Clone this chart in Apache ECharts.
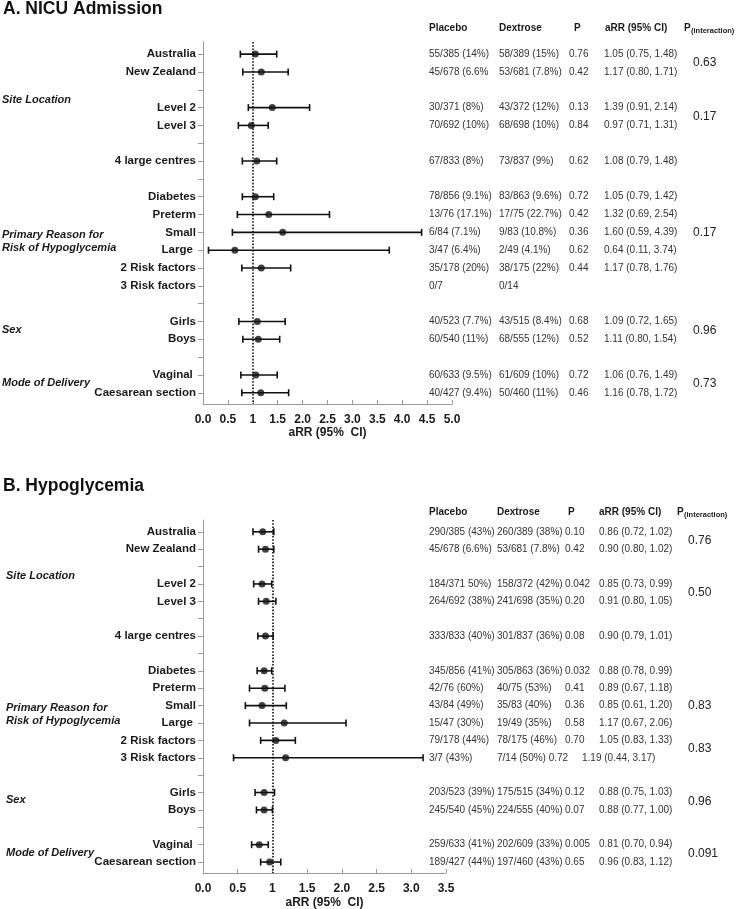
<!DOCTYPE html>
<html>
<head>
<meta charset="utf-8">
<script src="https://cdn.jsdelivr.net/npm/echarts@6/dist/echarts.min.js"></script>
<style>html,body{margin:0;padding:0;background:#fff}#c{width:738px;height:909px}</style>
</head>
<body>
<div id="c"></div>
<script>
// ---------- data ----------
const rowLabels = ['Australia','New Zealand','','Level 2','Level 3','','4 large centres','','Diabetes','Preterm','Small','Large ','2 Risk factors','3 Risk factors','','Girls','Boys','','Vaginal ','Caesarean section'];

// Panel A: NICU Admission
const aEst = [1.05,1.17,null,1.39,0.97,null,1.08,null,1.05,1.32,1.60,0.64,1.17,null,null,1.09,1.11,null,1.06,1.16];
const aLo  = [0.75,0.80,null,0.91,0.71,null,0.79,null,0.79,0.69,0.59,0.11,0.78,null,null,0.72,0.80,null,0.76,0.78];
const aHi  = [1.48,1.71,null,2.14,1.31,null,1.48,null,1.42,2.54,4.39,3.74,1.76,null,null,1.65,1.54,null,1.49,1.72];
const aPlacebo  = ['55/385 (14%)','45/678 (6.6%','','30/371 (8%)','70/692 (10%)','','67/833 (8%)','','78/856 (9.1%)','13/76 (17.1%)','6/84 (7.1%)','3/47 (6.4%)','35/178 (20%)','0/7','','40/523 (7.7%)','60/540 (11%)','','60/633 (9.5%)','40/427 (9.4%)'];
const aDextrose = ['58/389 (15%)','53/681 (7.8%)','','43/372 (12%)','68/698 (10%)','','73/837 (9%)','','83/863 (9.6%)','17/75 (22.7%)','9/83 (10.8%)','2/49 (4.1%)','38/175 (22%)','0/14','','43/515 (8.4%)','68/555 (12%)','','61/609 (10%)','50/460 (11%)'];
const aP = ['0.76','0.42','','0.13','0.84','','0.62','','0.72','0.42','0.36','0.62','0.44','','','0.68','0.52','','0.72','0.46'];
const aPint = ['0.63','0.17','0.17','0.96','0.73'];
const aPintRow = [0.5,3.5,10,15.5,18.5];

// Panel B: Hypoglycemia
const bEst = [0.86,0.90,null,0.85,0.91,null,0.90,null,0.88,0.89,0.85,1.17,1.05,1.19,null,0.88,0.88,null,0.81,0.96];
const bLo  = [0.72,0.80,null,0.73,0.80,null,0.79,null,0.78,0.67,0.61,0.67,0.83,0.44,null,0.75,0.77,null,0.70,0.83];
const bHi  = [1.02,1.02,null,0.99,1.05,null,1.01,null,0.99,1.18,1.20,2.06,1.33,3.17,null,1.03,1.00,null,0.94,1.12];
const bPlacebo  = ['290/385 (43%)','45/678 (6.6%)','','184/371 50%)','264/692 (38%)','','333/833 (40%)','','345/856 (41%)','42/76 (60%)','43/84 (49%)','15/47 (30%)','79/178 (44%)','3/7 (43%)','','203/523 (39%)','245/540 (45%)','','259/633 (41%)','189/427 (44%)'];
const bDextrose = ['260/389 (38%)','53/681 (7.8%)','','158/372 (42%)','241/698 (35%)','','301/837 (36%)','','305/863 (36%)','40/75 (53%)','35/83 (40%)','19/49 (35%)','78/175 (46%)','7/14 (50%) 0.72','','175/515 (34%)','224/555 (40%)','','202/609 (33%)','197/460 (43%)'];
const bP = ['0.10','0.42','','0.042','0.20','','0.08','','0.032','0.41','0.36','0.58','0.70','','','0.12','0.07','','0.005','0.65'];
const bPint = ['0.76','0.50','0.83','0.83','0.96','0.091'];
const bPintRow = [0.5,3.5,10,12.5,15.5,18.5];

const groupLabels = [
  {lines:['Site Location'], row:2.55},
  {lines:['Primary Reason for','Risk of Hypoglycemia'], row:10.12},
  {lines:['Sex'], row:15.45},
  {lines:['Mode of Delivery'], row:18.45}
];

// ---------- chart ----------
const FONT = '"Liberation Sans", Arial, Helvetica, sans-serif';
const chart = echarts.init(document.getElementById('c'), null, {renderer:'canvas'});

const tickRows = rowLabels.map((_, i) => i);
const labelRows = rowLabels.map((l, i) => l ? i : null).filter(v => v !== null);

function yAxisCfg(gi) {
  return {
    type:'value', gridIndex:gi, inverse:true, min:-0.68, max:19.63,
    axisLine:{show:true, onZero:false, lineStyle:{color:'#9a9a9a', width:1}},
    axisTick:{show:true, length:5, lineStyle:{color:'#9a9a9a'}, customValues:tickRows},
    axisLabel:{show:true, customValues:labelRows, margin:7, fontSize:11.5, fontWeight:'bold', color:'#1a1a1a', fontFamily:FONT,
      formatter:v => rowLabels[Math.round(v)] || ''},
    splitLine:{show:false}
  };
}
function xAxisCfg(gi, max, gap) {
  return {
    type:'value', gridIndex:gi, min:0, max:max, interval:0.5, position:'bottom',
    axisLine:{show:true, onZero:false, lineStyle:{color:'#9a9a9a', width:1}},
    axisTick:{show:true, inside:true, length:4, lineStyle:{color:'#9a9a9a'}},
    axisLabel:{margin:10, fontSize:12, fontWeight:'bold', color:'#1a1a1a', fontFamily:FONT,
      formatter:v => (Math.abs(v-1) < 1e-9 ? '1' : v.toFixed(1))},
    splitLine:{show:false},
    name:'aRR (95%  CI)', nameLocation:'middle', nameGap:gap,
    nameTextStyle:{fontSize:12, fontWeight:'bold', color:'#1a1a1a', fontFamily:FONT}
  };
}
function barData(lo, hi) {
  const d = [];
  lo.forEach((v, i) => { if (v !== null) d.push([v, hi[i], i]); });
  return d;
}
function ptData(est) {
  const d = [];
  est.forEach((v, i) => { if (v !== null) d.push([v, i]); });
  return d;
}
function whisker(params, api) {
  const p1 = api.coord([api.value(0), api.value(2)]);
  const p2 = api.coord([api.value(1), api.value(2)]);
  const h = 3.5;
  const st = {stroke:'#111', lineWidth:1.6};
  return {type:'group', children:[
    {type:'line', shape:{x1:p1[0], y1:p1[1], x2:p2[0], y2:p2[1]}, style:st},
    {type:'line', shape:{x1:p1[0], y1:p1[1]-h, x2:p1[0], y2:p1[1]+h}, style:st},
    {type:'line', shape:{x1:p2[0], y1:p2[1]-h, x2:p2[0], y2:p2[1]+h}, style:st}
  ]};
}
function seriesFor(gi, est, lo, hi) {
  return [
    {type:'custom', xAxisIndex:gi, yAxisIndex:gi, renderItem:whisker, data:barData(lo, hi), silent:true, z:3},
    {type:'scatter', xAxisIndex:gi, yAxisIndex:gi, data:ptData(est), symbol:'circle', symbolSize:7,
      itemStyle:{color:'#111'}, silent:true, z:4,
      markLine:{silent:true, symbol:['none','none'], label:{show:false},
        lineStyle:{type:'dotted', color:'#111', width:1.6}, data:[{xAxis:1}]}}
  ];
}

const option = {
  animation:false,
  textStyle:{fontFamily:FONT},
  grid:[
    {left:203, top:42, width:249, height:362, containLabel:false, outerBoundsMode:'none'},
    {left:203, top:520, width:243, height:353, containLabel:false, outerBoundsMode:'none'}
  ],
  xAxis:[xAxisCfg(0, 5, 22), xAxisCfg(1, 3.5, 24)],
  yAxis:[yAxisCfg(0), yAxisCfg(1)],
  series:[].concat(seriesFor(0, aEst, aLo, aHi), seriesFor(1, bEst, bLo, bHi))
};
chart.setOption(option);

// ---------- text table / labels ----------
function yPix(gi, row) { return chart.convertToPixel({gridIndex:gi}, [0, row])[1]; }
function txt(x, y, s, font, fill, align) {
  return {type:'text', x:x, y:y, silent:true,
    style:{text:s, font:font, fill:fill || '#1a1a1a', textAlign:align || 'left', textVerticalAlign:'middle'}};
}
const g = [];
const HEAD = 'bold 10px ' + FONT;
const CELL = '10px ' + FONT;
const PINT = '12px ' + FONT;
const GROUP = 'italic bold 11px ' + FONT;

function panel(gi, cfg) {
  g.push(txt(3, cfg.titleY, cfg.title, 'bold 17.5px ' + FONT, '#111'));
  const hy = cfg.headY;
  g.push(txt(cfg.hx[0], hy, 'Placebo', HEAD));
  g.push(txt(cfg.hx[1], hy, 'Dextrose', HEAD));
  g.push(txt(cfg.hx[2], hy, 'P', HEAD));
  g.push(txt(cfg.hx[3], hy, 'aRR (95% CI)', HEAD));
  g.push(txt(cfg.hx[4], hy, 'P', HEAD));
  g.push(txt(cfg.hx[4] + 7, hy + 3, '(interaction)', 'bold 7.5px ' + FONT));
  rowLabels.forEach((l, i) => {
    if (!l) return;
    const y = yPix(gi, i);
    g.push(txt(cfg.cx[0], y, cfg.placebo[i], CELL, '#333'));
    g.push(txt(cfg.cx[1], y, cfg.dextrose[i], CELL, '#333'));
    if (cfg.p[i]) g.push(txt(cfg.cx[2], y, cfg.p[i], CELL, '#333'));
    if (cfg.est[i] !== null) {
      const s = cfg.est[i].toFixed(2) + ' (' + cfg.lo[i].toFixed(2) + ', ' + cfg.hi[i].toFixed(2) + ')';
      const x = cfg.p[i] ? cfg.cx[3] : cfg.cx[3] - 17;
      g.push(txt(x, y, s, CELL, '#333'));
    }
  });
  cfg.pint.forEach((s, k) => g.push(txt(cfg.cx[4], yPix(gi, cfg.pintRow[k]), s, PINT, '#222')));
  groupLabels.forEach(gl => {
    const y0 = yPix(gi, gl.row);
    gl.lines.forEach((ln, j) => g.push(txt(cfg.gx, y0 + j * 13.5, ln, GROUP, '#1a1a1a')));
  });
}
panel(0, {title:'A. NICU Admission', titleY:9, headY:28, hx:[429,499,574,605,684], cx:[429,499,569,604,693],
  gx:2, placebo:aPlacebo, dextrose:aDextrose, p:aP, est:aEst, lo:aLo, hi:aHi, pint:aPint, pintRow:aPintRow});
panel(1, {title:'B. Hypoglycemia', titleY:486, headY:512, hx:[429,497,568,599,677], cx:[429,497,565,599,688],
  gx:6, placebo:bPlacebo, dextrose:bDextrose, p:bP, est:bEst, lo:bLo, hi:bHi, pint:bPint, pintRow:bPintRow});

chart.setOption({graphic:{elements:g}});
</script>
</body>
</html>
